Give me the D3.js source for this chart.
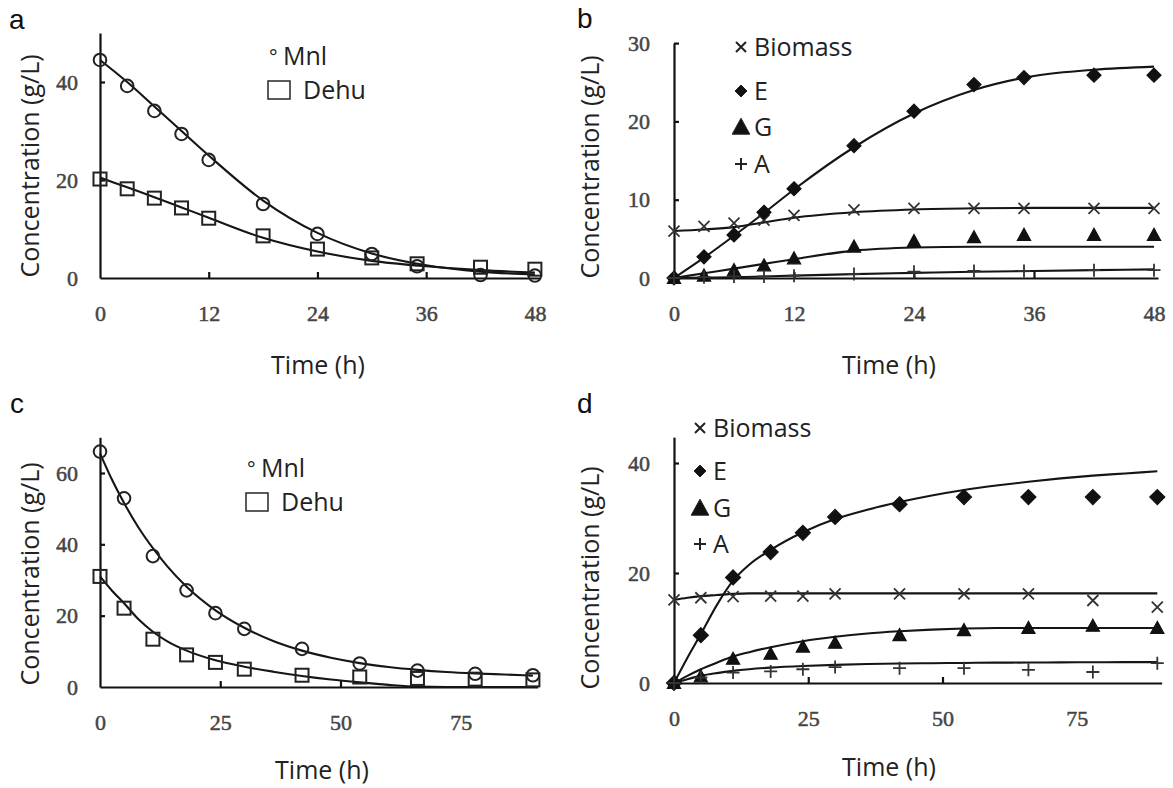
<!DOCTYPE html>
<html>
<head>
<meta charset="utf-8">
<script src="https://cdn.jsdelivr.net/npm/d3@7"></script>
<style>
  body { margin: 0; background: #fff; }
  svg text { font-family: "Open Sans", sans-serif; fill: #222; }
  .tick text { font-family: "Liberation Serif", "Times New Roman", serif; font-size: 22px; fill: #444; stroke: #444; stroke-width: 0.5; }
  .domain, .tick line { stroke: #111; stroke-width: 2.2; }
</style>
</head>
<body>
<script>
// ---- panel a: 48 h run, Mnl / Dehu ----
var timeA    = [0, 3, 6, 9, 12, 18, 24, 30, 35, 42, 48];
var mnlA     = [44.5, 39.2, 34.1, 29.4, 24.1, 15.1, 9.0, 4.9, 2.4, 0.6, 0.5];
var dehuA    = [20.2, 18.2, 16.3, 14.3, 12.2, 8.6, 5.9, 4.1, 2.9, 2.2, 1.8];
var fitTimeA = [0, 3, 6, 9, 12, 18, 24, 30, 36, 42, 48];
var mnlFitA  = [44.5, 40.0, 35.0, 30.0, 25.0, 15.8, 9.2, 5.0, 2.6, 1.3, 0.7];
var dehuFitA = [20.5, 18.5, 16.5, 14.4, 12.3, 8.2, 5.4, 3.5, 2.4, 1.6, 1.1];

// ---- panel b: 48 h run, products ----
var timeB       = [0, 3, 6, 9, 12, 18, 24, 30, 35, 42, 48];
var biomassB    = [6.0, 6.6, 7.0, 7.4, 8.0, 8.7, 8.9, 8.9, 8.9, 8.9, 8.9];
var ethanolB    = [0, 2.7, 5.5, 8.4, 11.4, 16.9, 21.3, 24.7, 25.6, 25.9, 25.9];
var glycerolB   = [0, 0.3, 1.0, 1.6, 2.5, 4.0, 4.7, 5.2, 5.5, 5.5, 5.5];
var acetateB    = [0, 0.1, 0.2, 0.2, 0.3, 0.5, 0.8, 0.9, 0.9, 1.0, 1.0];
var fitTimeB    = [0, 3, 6, 9, 12, 18, 24, 30, 36, 42, 48];
var biomassFitB = [6.0, 6.2, 6.5, 7.1, 7.7, 8.4, 8.75, 8.9, 8.95, 8.95, 8.95];
var ethanolFitB = [0, 2.6, 5.4, 8.3, 11.3, 16.7, 21.0, 24.0, 25.8, 26.6, 27.0];
var glycerolFitB = [0, 0.6, 1.2, 1.8, 2.4, 3.5, 3.9, 4.0, 4.0, 4.0, 4.0];
var acetateFitB = [0, 0.05, 0.1, 0.2, 0.3, 0.5, 0.65, 0.8, 0.9, 1.0, 1.1];

// ---- panel c: 90 h run, Mnl / Dehu ----
var timeC    = [0, 5, 11, 18, 24, 30, 42, 54, 66, 78, 90];
var mnlC     = [66.0, 52.9, 36.7, 27.1, 20.7, 16.3, 10.7, 6.6, 4.6, 3.7, 3.3];
var dehuC    = [31.0, 22.1, 13.4, 9.0, 6.9, 5.0, 3.3, 2.8, 2.4, 2.2, 2.0];
var fitTimeC = [0, 2.5, 5, 8, 11, 14, 18, 24, 30, 36, 42, 48, 54, 60, 66, 72, 78, 84, 90];
var mnlFitC  = [65.5, 58.1, 51.6, 44.7, 38.9, 33.8, 28.1, 21.5, 16.6, 12.9, 10.2, 8.2, 6.7, 5.6, 4.8, 4.2, 3.8, 3.5, 3.2];
var dehuFitC = [31, 27, 23.5, 19, 15.5, 12.8, 10.2, 7.5, 5.7, 4.3, 3.1, 2.1, 1.3, 0.6, 0.1, 0, 0, 0, 0];

// ---- panel d: 90 h run, products ----
var timeD       = [0, 5, 11, 18, 24, 30, 42, 54, 66, 78, 90];
var biomassD    = [15.1, 15.5, 15.7, 15.8, 15.8, 16.2, 16.2, 16.2, 16.2, 15.0, 13.8];
var ethanolD    = [0, 8.7, 19.2, 23.8, 27.3, 30.2, 32.5, 33.8, 33.8, 33.8, 33.8];
var glycerolD   = [0, 1.2, 4.4, 5.3, 6.6, 7.3, 8.7, 9.6, 10.0, 10.4, 10.0];
var acetateD    = [0, 1.0, 1.9, 2.1, 2.5, 2.9, 2.7, 2.7, 2.4, 2.0, 3.6];
var fitTimeD    = [0, 2.5, 5, 8, 11, 14, 18, 24, 30, 36, 42, 48, 54, 60, 66, 72, 78, 84, 90];
var biomassFitD = [15.1, 15.5, 15.8, 16.0, 16.2, 16.3, 16.3, 16.3, 16.3, 16.3, 16.3, 16.3, 16.3, 16.3, 16.3, 16.3, 16.3, 16.3, 16.3];
var ethanolFitD = [0, 4.6, 8.9, 14.2, 18.6, 21.5, 24.2, 27.4, 29.8, 31.5, 32.9, 34.1, 35.1, 35.9, 36.6, 37.2, 37.7, 38.1, 38.5];
var glycerolFitD = [0, 1.3, 2.5, 3.7, 4.8, 5.6, 6.5, 7.6, 8.4, 9.0, 9.4, 9.7, 9.9, 10.0, 10.0, 10.0, 10.0, 10.0, 10.0];
var acetateFitD = [0, 0.7, 1.3, 1.8, 2.2, 2.5, 2.8, 3.1, 3.3, 3.45, 3.55, 3.6, 3.65, 3.7, 3.72, 3.75, 3.77, 3.8, 3.8];

var svg = d3.select("body").append("svg").attr("width", 1173).attr("height", 788);

// marker shapes, centred on 0,0
var shapes = {
  diamond:  function(s) { return "M0," + (-s/2) + "L" + (s/2) + ",0L0," + (s/2) + "L" + (-s/2) + ",0Z"; },
  triangle: function(s) { return "M0," + (-s*0.55) + "L" + (s*0.55) + "," + (s*0.45) + "L" + (-s*0.55) + "," + (s*0.45) + "Z"; },
  times:    function(s) { var h = s/2; return "M" + (-h) + "," + (-h) + "L" + h + "," + h + "M" + h + "," + (-h) + "L" + (-h) + "," + h; },
  plus:     function(s) { var h = s/2; return "M" + (-h) + ",0L" + h + ",0M0," + (-h) + "L0," + h; }
};

function drawPanel(p) {
  var x = d3.scaleLinear().domain([0, p.xEnd]).range([p.x0, p.x0 + p.xEnd * p.xk]);
  var y = d3.scaleLinear().domain([0, p.yEnd]).range([p.y0, p.y0 - p.yEnd * p.yk]);
  var g = svg.append("g");

  g.append("g").attr("transform", "translate(0," + p.y0 + ")")
    .call(d3.axisBottom(x).tickValues(p.xTicks).tickSize(-6).tickSizeOuter(0).tickPadding(p.xPad))
    .call(function(a) {
      a.selectAll(".tick line").filter(function(d) { return d === 0 || d === p.xTicks[p.xTicks.length - 1]; }).remove();
    });
  g.append("g").attr("transform", "translate(" + p.x0 + ",0)")
    .call(d3.axisLeft(y).tickValues(p.yTicks).tickSize(-5).tickSizeOuter(0).tickPadding(p.yPad))
    .call(function(a) { a.selectAll(".tick line").filter(function(d) { return d === 0; }).remove(); });

  var line = d3.line().curve(d3.curveMonotoneX)
    .x(function(d) { return x(d[0]); })
    .y(function(d) { return y(d[1]); });

  p.fits.forEach(function(f) {
    g.append("path").datum(d3.zip(f.t, f.v))
      .attr("d", line).attr("fill", "none").attr("stroke", "#151515").attr("stroke-width", 2.1);
  });

  p.series.forEach(function(s) {
    var pts = d3.zip(s.t, s.v);
    var sel = g.append("g").selectAll("path").data(pts).enter();
    if (s.kind === "circle") {
      sel.append("circle").attr("cx", function(d) { return x(d[0]); }).attr("cy", function(d) { return y(d[1]); })
        .attr("r", 6.3).attr("fill", "none").attr("stroke", "#222").attr("stroke-width", 2);
    } else if (s.kind === "square") {
      sel.append("rect").attr("x", function(d) { return x(d[0]) - 6.5; }).attr("y", function(d) { return y(d[1]) - 6.5; })
        .attr("width", 13).attr("height", 13).attr("fill", "none").attr("stroke", "#222").attr("stroke-width", 2);
    } else {
      var filled = s.kind === "diamond" || s.kind === "triangle";
      sel.append("path").attr("transform", function(d) { return "translate(" + x(d[0]) + "," + y(d[1]) + ")"; })
        .attr("d", shapes[s.kind](s.size))
        .attr("fill", filled ? "#111" : "none")
        .attr("stroke", filled ? "#111" : "#333")
        .attr("stroke-width", filled ? 1.2 : 1.8);
    }
  });

  // titles
  g.append("text").attr("x", p.letter[0]).attr("y", p.letter[1])
    .style("font-family", "'Liberation Sans', Arial, sans-serif").style("font-size", "28px").style("fill", "#111").text(p.name);
  g.append("text").attr("transform", "translate(" + p.yTitle[0] + "," + p.yTitle[1] + ") rotate(-90)")
    .attr("text-anchor", "middle").attr("dy", "0.35em").style("font-size", "25px").text("Concentration (g/L)");
  g.append("text").attr("x", p.xTitle[0]).attr("y", p.xTitle[1])
    .attr("text-anchor", "middle").attr("dy", "0.35em").style("font-size", "25px").text("Time (h)");

  p.legend(g);
}

function substrateLegend(x0, y0) {
  return function(g) {
    g.append("text").attr("x", x0).attr("y", y0 - 1).style("font-size", "20px").text("°");
    g.append("text").attr("x", x0 + 14).attr("y", y0).style("font-size", "25px").text("Mnl");
    g.append("rect").attr("x", x0 - 1).attr("y", y0 + 16).attr("width", 22).attr("height", 18)
      .attr("fill", "none").attr("stroke", "#333").attr("stroke-width", 1.6);
    g.append("text").attr("x", x0 + 34).attr("y", y0 + 34).style("font-size", "25px").text("Dehu");
  };
}

function productLegend(x0, rows) {
  return function(g) {
    var kinds = ["times", "diamond", "triangle", "plus"];
    var labels = ["Biomass", "E", "G", "A"];
    var sizes = [10, 12, 16, 12];
    kinds.forEach(function(k, i) {
      var filled = k === "diamond" || k === "triangle";
      g.append("path").attr("transform", "translate(" + x0 + "," + (rows[i] - 9) + ")")
        .attr("d", shapes[k](sizes[i]))
        .attr("fill", filled ? "#111" : "none").attr("stroke", "#222").attr("stroke-width", filled ? 1 : 2);
      g.append("text").attr("x", x0 + 13).attr("y", rows[i]).style("font-size", "25px").text(labels[i]);
    });
  };
}

drawPanel({
  name: "a", letter: [9, 29], yTitle: [30, 166], xTitle: [318, 365],
  x0: 100, xk: 9.06, xEnd: 48.6, xTicks: [0, 12, 24, 36, 48], xPad: 27,
  y0: 278, yk: 4.9, yEnd: 50, yTicks: [0, 20, 40], yPad: 22,
  fits: [{ t: fitTimeA, v: mnlFitA }, { t: fitTimeA, v: dehuFitA }],
  series: [{ t: timeA, v: mnlA, kind: "circle" }, { t: timeA, v: dehuA, kind: "square" }],
  legend: substrateLegend(269, 65)
});

drawPanel({
  name: "b", letter: [577, 28], yTitle: [590, 167], xTitle: [889, 365],
  x0: 674, xk: 10.0, xEnd: 48.4, xTicks: [0, 12, 24, 36, 48], xPad: 27,
  y0: 278, yk: 7.83, yEnd: 30, yTicks: [0, 10, 20, 30], yPad: 24,
  fits: [{ t: fitTimeB, v: biomassFitB }, { t: fitTimeB, v: ethanolFitB },
         { t: fitTimeB, v: glycerolFitB }, { t: fitTimeB, v: acetateFitB }],
  series: [{ t: timeB, v: biomassB, kind: "times", size: 11 },
           { t: timeB, v: ethanolB, kind: "diamond", size: 14 },
           { t: timeB, v: glycerolB, kind: "triangle", size: 12 },
           { t: timeB, v: acetateB, kind: "plus", size: 13 }],
  legend: productLegend(741, [56, 100, 136, 173])
});

drawPanel({
  name: "c", letter: [10, 413], yTitle: [30, 574], xTitle: [322, 770],
  x0: 100, xk: 4.81, xEnd: 91, xTicks: [0, 25, 50, 75], xPad: 27,
  y0: 687, yk: 3.567, yEnd: 70, yTicks: [0, 20, 40, 60], yPad: 22,
  fits: [{ t: fitTimeC, v: mnlFitC }, { t: fitTimeC, v: dehuFitC }],
  series: [{ t: timeC, v: mnlC, kind: "circle" }, { t: timeC, v: dehuC, kind: "square" }],
  legend: substrateLegend(247, 477)
});

drawPanel({
  name: "d", letter: [577, 413], yTitle: [590, 578], xTitle: [889, 767],
  x0: 674, xk: 5.37, xEnd: 90.8, xTicks: [0, 25, 50, 75], xPad: 27,
  y0: 683, yk: 5.5, yEnd: 44.7, yTicks: [0, 20, 40], yPad: 24,
  fits: [{ t: fitTimeD, v: biomassFitD }, { t: fitTimeD, v: ethanolFitD },
         { t: fitTimeD, v: glycerolFitD }, { t: fitTimeD, v: acetateFitD }],
  series: [{ t: timeD, v: biomassD, kind: "times", size: 11 },
           { t: timeD, v: ethanolD, kind: "diamond", size: 15 },
           { t: timeD, v: glycerolD, kind: "triangle", size: 12 },
           { t: timeD, v: acetateD, kind: "plus", size: 13 }],
  legend: productLegend(700, [437, 480, 517, 553])
});
</script>
</body>
</html>
